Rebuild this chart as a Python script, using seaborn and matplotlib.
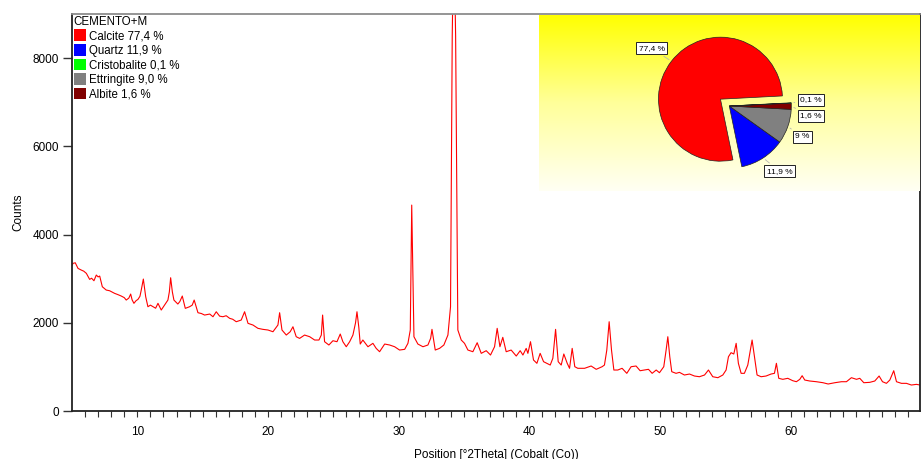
"""
plot.py - XRD pattern of CEMENTO+M with phase quantification pie inset
"""
import numpy as np
import pandas as pd
import matplotlib
matplotlib.use("Agg")
import matplotlib.pyplot as plt
from matplotlib.patches import Patch
from matplotlib.colors import LinearSegmentedColormap
import seaborn as sns

# ============================================================================
# 0. DATA
# ============================================================================
two_theta = [
    5.0, 5.08, 5.25, 5.46, 5.71, 5.9, 6.1, 6.35, 6.5, 6.68,
    6.86, 7.0, 7.12, 7.32, 7.62, 7.88, 8.05, 8.26, 8.5, 8.77,
    9.0, 9.15, 9.35, 9.49, 9.6, 9.74, 9.9, 10.05, 10.2, 10.3,
    10.46, 10.64, 10.81, 11.0, 11.2, 11.4, 11.58, 11.83, 12.09, 12.34,
    12.45, 12.55, 12.68, 12.8, 13.1, 13.25, 13.44, 13.67, 14.0, 14.2,
    14.35, 14.64, 14.9, 15.15, 15.54, 15.79, 16.04, 16.3, 16.55, 16.8,
    17.07, 17.3, 17.57, 17.95, 18.21, 18.47, 18.85, 19.23, 19.61, 20.0,
    20.38, 20.76, 20.89, 21.07, 21.4, 21.7, 21.91, 22.16, 22.42, 22.8,
    23.19, 23.57, 23.9, 24.08, 24.18, 24.33, 24.66, 24.97, 25.28, 25.53,
    25.73, 25.99, 26.25, 26.5, 26.7, 26.81, 26.95, 27.06, 27.26, 27.65,
    28.03, 28.28, 28.54, 28.93, 29.31, 29.69, 30.07, 30.46, 30.71, 30.89,
    31.0, 31.17, 31.47, 31.86, 32.24, 32.45, 32.55, 32.8, 33.13, 33.46,
    33.77, 33.97, 34.1, 34.22, 34.36, 34.53, 34.79, 35.04, 35.3, 35.68,
    36.01, 36.32, 36.7, 37.03, 37.34, 37.54, 37.75, 37.97, 38.23, 38.61,
    39.0, 39.3, 39.51, 39.76, 39.89, 40.09, 40.32, 40.58, 40.83, 41.09,
    41.34, 41.6, 41.8, 42.01, 42.21, 42.44, 42.64, 42.9, 43.08, 43.28,
    43.48, 43.71, 44.23, 44.73, 45.12, 45.57, 45.75, 45.93, 46.11, 46.29,
    46.47, 46.77, 47.1, 47.46, 47.79, 48.17, 48.48, 48.82, 49.12, 49.4,
    49.71, 49.96, 50.29, 50.47, 50.6, 50.75, 50.9, 51.23, 51.49, 51.87,
    52.26, 52.64, 53.02, 53.41, 53.71, 54.04, 54.43, 54.81, 55.06, 55.24,
    55.44, 55.65, 55.83, 56.0, 56.21, 56.46, 56.72, 56.92, 57.05, 57.23,
    57.43, 57.74, 58.12, 58.5, 58.76, 58.91, 59.09, 59.4, 59.78, 60.16,
    60.44, 60.7, 60.88, 61.08, 61.46, 61.97, 62.48, 62.87, 63.38, 63.89,
    64.27, 64.65, 65.04, 65.29, 65.6, 66.06, 66.44, 66.77, 67.03, 67.33,
    67.59, 67.89, 68.1, 68.48, 68.86, 69.24, 69.63, 69.9,
]
counts = [
    3300, 3347, 3360, 3233, 3195, 3170, 3120, 2984, 3010, 2953,
    3082, 3040, 3059, 2817, 2742, 2726, 2700, 2667, 2640, 2606,
    2570, 2515, 2560, 2651, 2520, 2441, 2500, 2531, 2600, 2742,
    2991, 2591, 2364, 2400, 2364, 2330, 2441, 2289, 2402, 2515,
    2700, 3021, 2700, 2515, 2425, 2480, 2606, 2327, 2364, 2400,
    2515, 2228, 2210, 2175, 2198, 2137, 2250, 2150, 2137, 2160,
    2100, 2080, 2024, 2062, 2250, 1987, 1949, 1874, 1851, 1836,
    1797, 1949, 2228, 1836, 1722, 1797, 1910, 1684, 1646, 1722,
    1684, 1609, 1609, 1722, 2175, 1571, 1496, 1593, 1571, 1745,
    1571, 1457, 1571, 1722, 2000, 2250, 1900, 1518, 1609, 1457,
    1534, 1420, 1344, 1518, 1496, 1457, 1382, 1398, 1534, 1836,
    4668, 1684, 1518, 1457, 1496, 1650, 1851, 1382, 1420, 1496,
    1722, 2364, 8500, 11000, 8500, 1836, 1609, 1534, 1382, 1344,
    1548, 1307, 1367, 1269, 1457, 1874, 1457, 1670, 1344, 1382,
    1246, 1367, 1269, 1420, 1307, 1571, 1156, 1081, 1307, 1118,
    1081, 1042, 1194, 1851, 1118, 1042, 1292, 1081, 968, 1420,
    1004, 968, 968, 1020, 945, 1004, 1042, 1382, 2024, 1382,
    929, 929, 968, 854, 1004, 1020, 913, 929, 945, 854,
    929, 868, 1004, 1382, 1684, 1230, 891, 854, 876, 816,
    838, 793, 777, 816, 929, 777, 755, 816, 929, 1230,
    1322, 1292, 1534, 1081, 854, 854, 1042, 1382, 1609, 1230,
    816, 777, 793, 838, 854, 1081, 741, 718, 741, 687,
    664, 718, 800, 702, 680, 664, 641, 612, 641, 664,
    664, 755, 718, 741, 641, 650, 680, 793, 664, 627,
    702, 913, 664, 627, 627, 589, 604, 589,
]

phases = ["Calcite", "Quartz", "Cristobalite", "Ettringite", "Albite"]
phase_pct = ["77,4", "11,9", "0,1", "9,0", "1,6"]
phase_colors = ["#ff0000", "#0000ff", "#00ff00", "#808080", "#800000"]

# pie: counter-clockwise order as drawn in the inset
pie_phases = ["Calcite", "Quartz", "Ettringite", "Albite", "Cristobalite"]
pie_values = [77.4, 11.9, 9.0, 1.6, 0.1]
pie_labels = ["77,4 %", "11,9 %", "9 %", "1,6 %", "0,1 %"]

# ============================================================================
# 1. FIGURE
# ============================================================================
sns.set_theme(style="ticks")
plt.rcParams["font.family"] = ["Liberation Sans", "DejaVu Sans"]
plt.rcParams["font.size"] = 8.5
plt.rcParams["text.color"] = "black"
plt.rcParams["axes.labelcolor"] = "black"
plt.rcParams["xtick.labelcolor"] = "black"
plt.rcParams["ytick.labelcolor"] = "black"

W, H = 922, 459
fig = plt.figure(figsize=(W / 100, H / 100), dpi=100)
ax = fig.add_axes([72 / W, 48 / H, 848 / W, 397 / H])

df = pd.DataFrame({"pos": two_theta, "counts": counts})
sns.lineplot(data=df, x="pos", y="counts", color="#ff0000", lw=0.8,
             sort=False, ax=ax, legend=False)

ax.set_xlim(5, 69.9)
ax.set_ylim(0, 9000)
ax.set_xticks([10, 20, 30, 40, 50, 60])
ax.set_xticks(np.arange(6, 70, 1), minor=True)
ax.set_yticks([0, 2000, 4000, 6000, 8000])
ax.tick_params(axis="y", which="major", length=6.5, width=1, color="#333333",
               labelsize=8.5, pad=3)
ax.tick_params(axis="x", which="both", length=4.5, width=0.8, color="#333333",
               labelsize=8.5, pad=6)
ax.set_xlabel("Position [°2Theta] (Cobalt (Co))", fontsize=8.5, labelpad=8)
ax.set_ylabel("Counts", fontsize=8.5, labelpad=6)

for side in ["left", "bottom", "right"]:
    ax.spines[side].set_color("#222222")
    ax.spines[side].set_linewidth(1.3)
ax.spines["top"].set_color("#8c8c8c")
ax.spines["top"].set_linewidth(1.3)

handles = [Patch(facecolor=c, edgecolor="none") for c in phase_colors]
labels = [f"{p} {v} %" for p, v in zip(phases, phase_pct)]
leg = ax.legend(handles, labels, title="CEMENTO+M", loc="upper left",
                frameon=False, fontsize=8.3, title_fontsize=8.3,
                handlelength=1.1, handleheight=1.2, handletextpad=0.25,
                labelspacing=0.15, borderaxespad=0.1, borderpad=0.05,
                alignment="left")

# ============================================================================
# 2. PIE INSET ON YELLOW GRADIENT
# ============================================================================
bg = fig.add_axes([539 / W, (H - 191) / H, 381 / W, 176 / H])
grad = np.linspace(0, 1, 256).reshape(-1, 1)
cmap = LinearSegmentedColormap.from_list("yl", ["#fffff4", "#ffff9a", "#ffff00"])
bg.imshow(grad, aspect="auto", cmap=cmap, origin="lower")
bg.set_axis_off()

pie_r = 62
pa = fig.add_axes([(729.3 - 1.5 * pie_r) / W, (H - 106 - 1.5 * pie_r) / H,
                   3 * pie_r / W, 3 * pie_r / H])
pa.set_facecolor("none")
color_of = dict(zip(phases, phase_colors))
wedges, _ = pa.pie(pie_values, colors=[color_of[p] for p in pie_phases],
                   startangle=3, counterclock=True,
                   explode=[0.18, 0, 0, 0, 0],
                   wedgeprops=dict(edgecolor="#222222", linewidth=0.5))
pa.set_xlim(-1.5, 1.5)
pa.set_ylim(-1.5, 1.5)
pa.set_aspect("equal")
pa.set_axis_off()

label_xy = [(-1.25, 0.93), (0.81, -1.05), (1.18, -0.50), (1.32, -0.16), (1.32, 0.10)]
for w, txt, xy in zip(wedges, pie_labels, label_xy):
    ang = np.deg2rad((w.theta1 + w.theta2) / 2)
    cx, cy = w.center
    edge = (cx + np.cos(ang) * 1.0, cy + np.sin(ang) * 1.0)
    pa.annotate(txt, xy=edge, xytext=xy, ha="center", va="center",
                fontsize=6, annotation_clip=False,
                bbox=dict(boxstyle="square,pad=0.3", fc="white",
                          ec="#222222", lw=0.7),
                arrowprops=dict(arrowstyle="-", color="#b5b5b5", lw=0.6))

fig.savefig("out.png", dpi=100)
